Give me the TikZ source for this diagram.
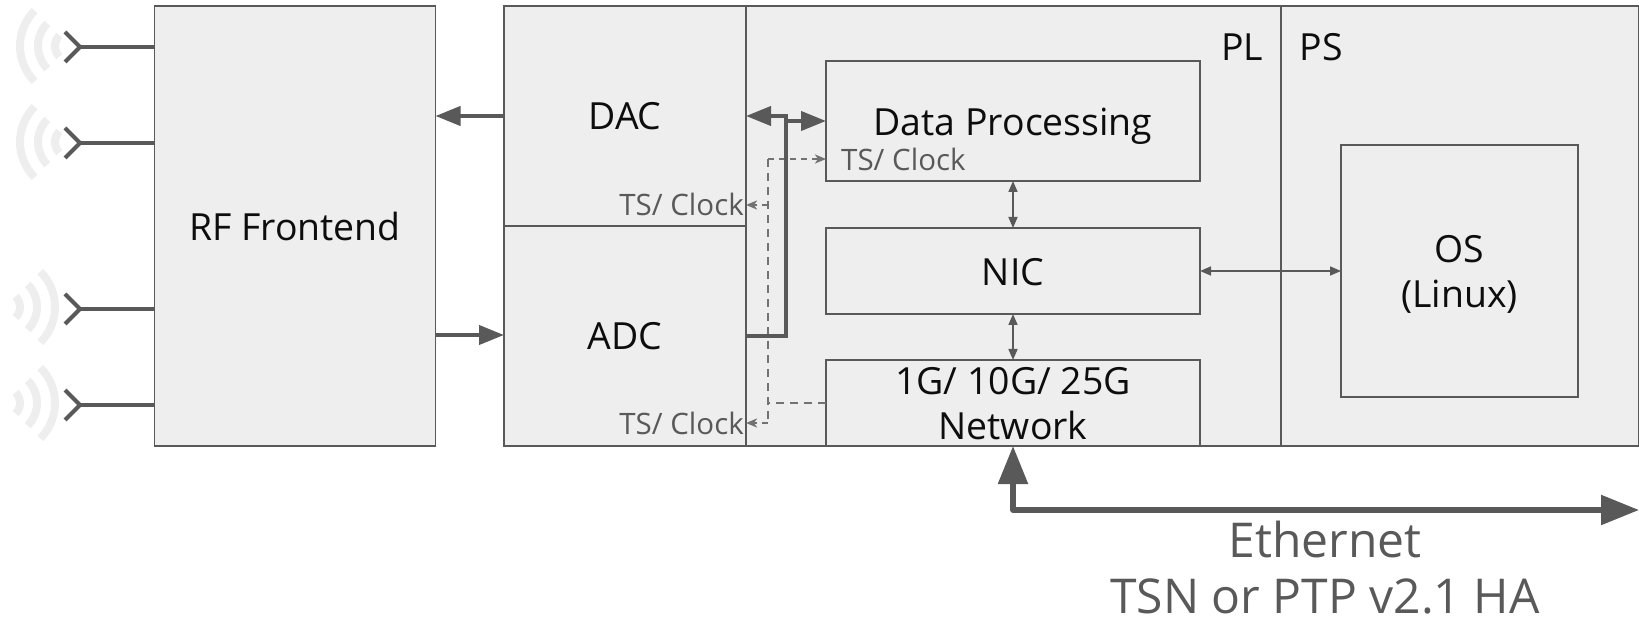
\documentclass[tikz,border=0pt]{standalone}
\usepackage{fontspec}
\setmainfont{Open Sans}
\usetikzlibrary{arrows.meta}
\definecolor{ink}{HTML}{595959}
\definecolor{panel}{HTML}{EEEEEE}
\newcommand\dropped[2]{\raisebox{-#1}[0pt][0pt]{#2}}
\newcommand\twolines[2]{\begin{tabular}{@{}c@{}}#1\\#2\end{tabular}}
\tikzset{
  x=1pt,y=-1pt,
  block/.style={draw=ink,fill=panel,line width=1.8pt,inner sep=0pt,outer sep=0pt,align=center,font=\fontsize{37.4}{45}\selectfont,text=black!95},
  label/.style={inner sep=0pt,font=\fontsize{37.4}{45}\selectfont,text=black!95},
  tslabel/.style={inner sep=0pt,font=\fontsize{29.5}{34}\selectfont,text=ink},
  bigtext/.style={inner sep=0pt,anchor=base,font=\fontsize{48}{56}\selectfont,text=ink},
  thick bus/.style={draw=ink,line width=4pt,-{Triangle[length=25pt,width=19pt]}},
  feed/.style={draw=ink,line width=4pt},
  eth/.style={draw=ink,line width=5.5pt,line cap=round,line join=round,{Triangle[length=38pt,width=29pt]}-{Triangle[length=38pt,width=29pt]}},
  twoway/.style={draw=ink,line width=1.6pt,{Triangle[length=11pt,width=9pt]}-{Triangle[length=11pt,width=9pt]}},
  clockline/.style={draw=ink!85,line width=2pt,dashed,dash pattern=on 8pt off 6pt},
  clockhead/.style={draw=ink!85,line width=2pt,dash pattern=on 6pt off 5pt,-{Stealth[length=11pt,width=9pt,inset=3pt]}},
  wave/.style={draw=panel,line width=8pt},
  dipole/.style={draw=ink,line width=4pt,line join=miter},
}
\begin{document}
\begin{tikzpicture}
\useasboundingbox (0,0) rectangle (1639,620);
% panels
\node[block,minimum width=281pt,minimum height=440pt] (rf) at (295,226) {RF Frontend};
\node[block,minimum width=242pt,minimum height=220pt] (dac) at (625,116) {\dropped{13.8pt}{DAC}};
\node[block,minimum width=242pt,minimum height=220pt] (adc) at (625,336) {\dropped{14pt}{ADC}};
\node[block,minimum width=535pt,minimum height=440pt] (pl) at (1013.5,226) {};
\node[block,minimum width=358pt,minimum height=440pt] (ps) at (1460,226) {};
\node[block,minimum width=374pt,minimum height=120pt] (dp) at (1013,121) {\dropped{15pt}{Data Processing}};
\node[block,minimum width=374pt,minimum height=86pt] (nic) at (1013,271) {\dropped{14.4pt}{NIC}};
\node[block,minimum width=374pt,minimum height=86pt] (net) at (1013,403) {\dropped{11.5pt}{\twolines{1G/ 10G/ 25G}{Network}}};
\node[block,minimum width=237pt,minimum height=252pt] (os) at (1459.5,271) {\dropped{11pt}{\twolines{OS}{(Linux)}}};
\node[label] (pllabel) at (1242,47) {PL};
\node[label] (pslabel) at (1321,47) {PS};
\node[tslabel,anchor=east] (tsdac) at (744,204) {TS/ Clock};
\node[tslabel,anchor=east] (tsadc) at (744,423) {TS/ Clock};
\node[tslabel,anchor=west] (tsdp) at (841,159) {TS/ Clock};
\node[bigtext] (ethlabel) at (1325,557) {Ethernet};
\node[bigtext] (tsnlabel) at (1325,613) {TSN or PTP v2.1 HA};
% antennas
\foreach \n/\yy in {1/47,2/143,3/309,4/405}{
  \coordinate (ant\n) at (80,\yy);
  \draw[dipole] (65,\yy-15) -- (ant\n) -- (65,\yy+15);
  \draw[dipole] (ant\n) -- (rf.west |- ant\n);
}
\foreach \yy in {46,142}{
  \foreach \r in {15,32,50}{
    \draw[wave] (70,\yy) ++(135:\r pt) arc[start angle=135,end angle=225,radius=\r pt];
  }
}
\foreach \yy in {307,403}{
  \foreach \r in {15,32,50}{
    \draw[wave] (5,\yy) ++(-45:\r pt) arc[start angle=-45,end angle=45,radius=\r pt];
  }
}
% data paths
\coordinate (dacout) at (dac.west);
\draw[thick bus] (dacout) -- (rf.east |- dacout);
\coordinate (rfout) at (435,335);
\draw[thick bus] (rfout) -- (adc.west |- rfout);
\coordinate (busfoot) at (786,336);
\coordinate (bustop) at (786,116);
\coordinate (busbranch) at (786,121);
% clock
\coordinate (clk) at (768,403);
\coordinate (clktop) at (768,159);
\coordinate (clkbot) at (768,423);
\coordinate (clkmid) at (768,205);
\draw[clockline] (net.west |- clk) -- (clk);
\draw[clockline] (clktop) -- (clkbot);
\draw[clockhead] (clktop) -- (dp.west |- clktop);
\draw[clockhead] (clkmid) -- (dac.east |- clkmid);
\draw[clockhead] (clkbot) -- (adc.east |- clkbot);
% bus over clock
\draw[feed] (adc.east) -- (busfoot) -- (busbranch);
\draw[thick bus,line join=miter] (busbranch) -- (bustop) -- (dac.east |- bustop);
\draw[thick bus] (busbranch) -- (dp.west);
% control
\draw[twoway] (dp.south) -- (nic.north);
\draw[twoway] (nic.south) -- (net.north);
\draw[twoway] (nic.east) -- (os.west);
% ethernet
\coordinate (ethcorner) at (net.south |- 0,510);
\coordinate (ethend) at (1639,510);
\draw[eth] (net.south) -- (ethcorner) -- (ethend);
\end{tikzpicture}
\end{document}
